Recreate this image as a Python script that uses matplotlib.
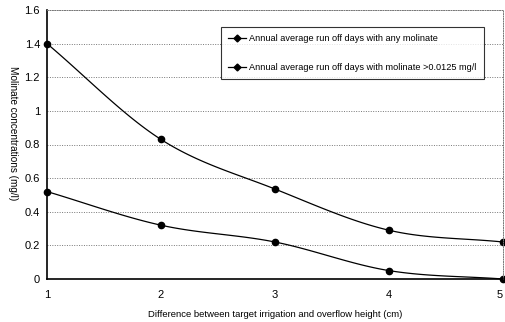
import numpy as np
import matplotlib
matplotlib.use("Agg")
import matplotlib.pyplot as plt
from matplotlib import font_manager

x_vals = [1, 2, 3, 4, 5]
any_molinate = [1.40, 0.83, 0.535, 0.29, 0.22]
above_limit = [0.52, 0.32, 0.22, 0.05, 0.0]
labels = ["Annual average run off days with any molinate",
          "Annual average run off days with molinate >0.0125 mg/l"]
y_ticks = [0, 0.2, 0.4, 0.6, 0.8, 1, 1.2, 1.4, 1.6]
y_ticklabels = ["0", "0.2", "0.4", "0.6", "0.8", "1", "1.2", "1.4", "1.6"]

names = {f.name for f in font_manager.fontManager.ttflist}
fam = "Liberation Sans Narrow" if "Liberation Sans Narrow" in names else "Liberation Sans"
plt.rcParams["font.family"] = [fam, "DejaVu Sans"]


def smooth(xs, ys, n=30):
    # Catmull-Rom curve through the points, like a spreadsheet "smoothed line"
    xs = np.asarray(xs, float)
    ys = np.asarray(ys, float)
    px = np.concatenate([[2 * xs[0] - xs[1]], xs, [2 * xs[-1] - xs[-2]]])
    py = np.concatenate([[2 * ys[0] - ys[1]], ys, [2 * ys[-1] - ys[-2]]])
    ox, oy = [], []
    for i in range(1, len(px) - 2):
        t = np.linspace(0, 1, n)
        for arr, out in ((px, ox), (py, oy)):
            p0, p1, p2, p3 = arr[i - 1], arr[i], arr[i + 1], arr[i + 2]
            out.extend(0.5 * ((2 * p1) + (-p0 + p2) * t
                              + (2 * p0 - 5 * p1 + 4 * p2 - p3) * t ** 2
                              + (-p0 + 3 * p1 - 3 * p2 + p3) * t ** 3))
    return np.array(ox), np.array(oy)


fig = plt.figure(figsize=(5.06, 3.22), dpi=100)
ax = fig.add_axes([47 / 506, 1 - 279 / 322, 456 / 506, 269 / 322])

for ys, lab in ((any_molinate, labels[0]), (above_limit, labels[1])):
    sx, sy = smooth(x_vals, ys)
    ax.plot(sx, sy, color="black", lw=0.9, clip_on=False)
    ax.plot(x_vals, ys, "o", color="black", ms=4.5, clip_on=False)
    ax.plot([], [], "-D", color="black", lw=0.9, ms=3.5, label=lab)

ax.set_xlim(1, 5)
ax.set_ylim(0, 1.6)
ax.set_xticks(x_vals)
ax.set_yticks(y_ticks)
ax.set_yticklabels(y_ticklabels)
ax.yaxis.grid(True, ls=(0, (1, 1.5)), color="#777777", lw=0.7)
ax.tick_params(axis="both", labelsize=8, length=0, pad=5)
ax.tick_params(axis="x", pad=8)
ax.get_xticklabels()[-1].set_horizontalalignment("right")

for s in ("top", "right"):
    ax.spines[s].set_linestyle((0, (1, 1.5)))
    ax.spines[s].set_color("#777777")
    ax.spines[s].set_linewidth(0.7)
for s in ("left", "bottom"):
    ax.spines[s].set_linewidth(1.2)

ax.set_ylabel("Molinate concentrations (mg/l)", fontsize=7.2, rotation=270,
              va="center", ha="center")
ax.yaxis.set_label_coords(-0.075, 0.543)
ax.set_xlabel("Difference between target irrigation and overflow height (cm)",
              fontsize=6.8, labelpad=7)

leg = ax.legend(loc="upper left", bbox_to_anchor=(169 / 456, 1 - 12 / 269),
                fontsize=6.6, frameon=True, fancybox=False, edgecolor="black",
                labelspacing=2.2, handlelength=2.0, borderpad=0.8,
                handletextpad=0.3)
leg.get_frame().set_linewidth(0.8)

fig.savefig("out.png", dpi=100)
